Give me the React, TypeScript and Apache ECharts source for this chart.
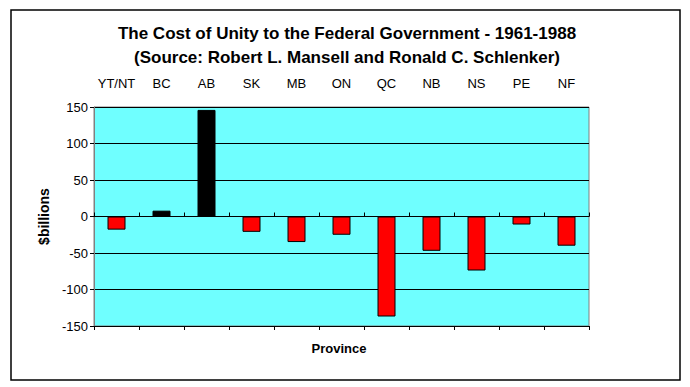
import React, { useEffect, useRef } from "react";
import * as echarts from "echarts";

const categories = ["YT/NT", "BC", "AB", "SK", "MB", "ON", "QC", "NB", "NS", "PE", "NF"];
const values = [-18, 8, 146, -21, -35, -25, -137, -47, -74, -11, -40];
const yTicks = { min: -150, max: 150, interval: 50 };
const titleLines = [
  "The Cost of Unity to the Federal Government - 1961-1988",
  "(Source: Robert L. Mansell and Ronald C. Schlenker)",
];
const yName = "$billions";
const xName = "Province";

const FONT = "'Liberation Sans', Arial, sans-serif";

export default function App() {
  const ref = useRef<HTMLDivElement>(null);
  useEffect(() => {
    if (!ref.current) return;
    const chart = echarts.init(ref.current, null, { renderer: "svg" });
    chart.setOption({
      animation: false,
      backgroundColor: "#ffffff",
      title: {
        text: titleLines.join("\n"),
        left: 342,
        textAlign: "center",
        top: 16,
        textStyle: { fontFamily: FONT, fontSize: 17, fontWeight: "bold", color: "#000", lineHeight: 24 },
      },
      grid: {
        left: 94,
        right: 101,
        top: 107,
        bottom: 61,
        show: true,
        backgroundColor: "#6FFFFF",
        borderColor: "#808080",
        borderWidth: 1,
      },
      xAxis: [
        {
          type: "category",
          data: categories,
          position: "top",
          axisLine: { show: false, onZero: false },
          axisTick: { show: false },
          axisLabel: { fontFamily: FONT, fontSize: 13, color: "#000", margin: 17, interval: 0 },
        },
        {
          type: "category",
          data: categories,
          position: "bottom",
          axisLine: { show: true, onZero: true, lineStyle: { color: "#000", width: 1 } },
          axisTick: { show: true, inside: true, length: 4, interval: 0, lineStyle: { color: "#000" } },
          axisLabel: { show: false },
        },
        {
          type: "category",
          data: categories,
          position: "bottom",
          axisLine: { show: false, onZero: true },
          axisTick: { show: true, inside: false, length: 4, interval: 0, lineStyle: { color: "#000" } },
          axisLabel: { show: false },
        },
      ],
      yAxis: {
        type: "value",
        min: yTicks.min,
        max: yTicks.max,
        interval: yTicks.interval,
        name: yName,
        nameLocation: "middle",
        nameGap: 40,
        nameRotate: 90,
        nameTextStyle: { fontFamily: FONT, fontSize: 14, fontWeight: "bold", color: "#000" },
        axisLine: { show: true, lineStyle: { color: "#808080" } },
        axisTick: { show: true, length: 4, lineStyle: { color: "#000" } },
        axisLabel: { fontFamily: FONT, fontSize: 13, color: "#000", margin: 6 },
        splitLine: { show: true, lineStyle: { color: "#000", width: 1 } },
      },
      series: [
        {
          type: "bar",
          xAxisIndex: 1,
          barWidth: "40%",
          data: values.map((v) => ({
            value: v,
            itemStyle: { color: v >= 0 ? "#000000" : "#FF0000", borderColor: "#000", borderWidth: 1 },
          })),
        },
      ],
      graphic: [
        {
          type: "rect",
          shape: { x: 11, y: 10, width: 669, height: 370 },
          style: { fill: "none", stroke: "#000", lineWidth: 1.5 },
          silent: true,
        },
        {
          type: "text",
          x: 339,
          y: 348,
          style: {
            text: xName,
            fontFamily: FONT,
            fontSize: 13,
            fontWeight: "bold",
            fill: "#000",
            align: "center",
            verticalAlign: "middle",
          },
        },
      ],
    });
    return () => chart.dispose();
  }, []);
  return (
    <div
      ref={ref}
      style={{ position: "fixed", left: 0, top: 0, width: 690, height: 387 }}
    />
  );
}
